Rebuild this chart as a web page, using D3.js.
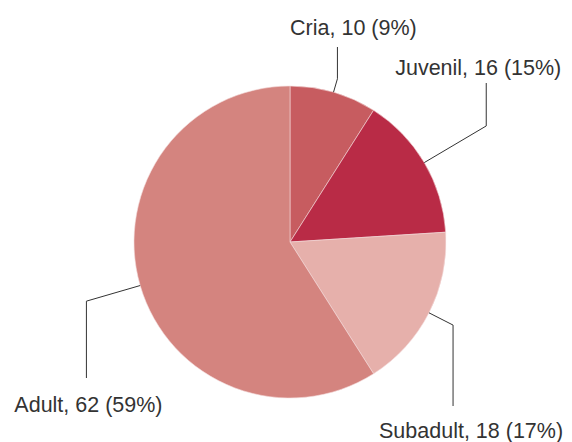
<!DOCTYPE html>
<html>
<head>
<meta charset="utf-8">
<script src="https://cdn.jsdelivr.net/npm/d3@7"></script>
<style>
  body { margin: 0; background: #fff; }
  text { font-family: "Liberation Sans", Arial, sans-serif; }
</style>
</head>
<body>
<div id="chart"></div>
<script>
// donnees du graphique
const categories = ["Cria", "Juvenil", "Subadult", "Adult"];
const counts = [10, 16, 18, 62];
const percents = [9, 15, 17, 59];
const colors = ["#c75c60", "#b92b46", "#e6b0ab", "#d4847f"];

// placement des etiquettes (rayon du coude, fin du trait vertical, decalage du texte)
const labelLayout = [
    { elbowR: 170, endY: 47, textY: 35, dx: 16 },
    { elbowR: 228, endY: 83, textY: 75, dx: -8 },
    { elbowR: 183, endY: 406, textY: 438, dx: 18 },
    { elbowR: 212, endY: 378, textY: 412, dx: 2 }
];

const width = 572, height = 442;
const cx = 290, cy = 242, radius = 156;

const svg = d3.select("#chart")
    .append("svg")
    .attr("width", width)
    .attr("height", height);

const g = svg.append("g")
    .attr("transform", `translate(${cx},${cy})`);

const data = categories.map((c, i) => ({ label: c, value: counts[i], pct: percents[i], color: colors[i], layout: labelLayout[i] }));

// les parts suivent les pourcentages arrondis
const pie = d3.pie()
    .value(d => d.pct)
    .sort(null);

const arc = d3.arc()
    .innerRadius(0)
    .outerRadius(radius);

const arcs = pie(data);

g.selectAll(".slice")
    .data(arcs)
    .enter()
    .append("path")
    .attr("class", "slice")
    .attr("d", arc)
    .attr("fill", d => d.data.color)
    .attr("stroke", "#f3dada")
    .attr("stroke-width", 0.6);

// point sur le cercle a l'angle median
const polar = (angle, r) => [r * Math.sin(angle), -r * Math.cos(angle)];

g.selectAll(".leader")
    .data(arcs)
    .enter()
    .append("polyline")
    .attr("class", "leader")
    .attr("fill", "none")
    .attr("stroke", "#333")
    .attr("stroke-width", 1)
    .attr("points", d => {
        const mid = (d.startAngle + d.endAngle) / 2;
        const p0 = polar(mid, radius);
        const p1 = polar(mid, d.data.layout.elbowR);
        const p2 = [p1[0], d.data.layout.endY - cy];
        return [p0, p1, p2].map(p => p.join(",")).join(" ");
    });

g.selectAll(".label")
    .data(arcs)
    .enter()
    .append("text")
    .attr("class", "label")
    .attr("text-anchor", "middle")
    .attr("x", d => polar((d.startAngle + d.endAngle) / 2, d.data.layout.elbowR)[0] + d.data.layout.dx)
    .attr("y", d => d.data.layout.textY - cy)
    .attr("font-size", 21.5)
    .attr("fill", "#333")
    .text(d => `${d.data.label}, ${d.data.value} (${d.data.pct}%)`);
</script>
</body>
</html>
